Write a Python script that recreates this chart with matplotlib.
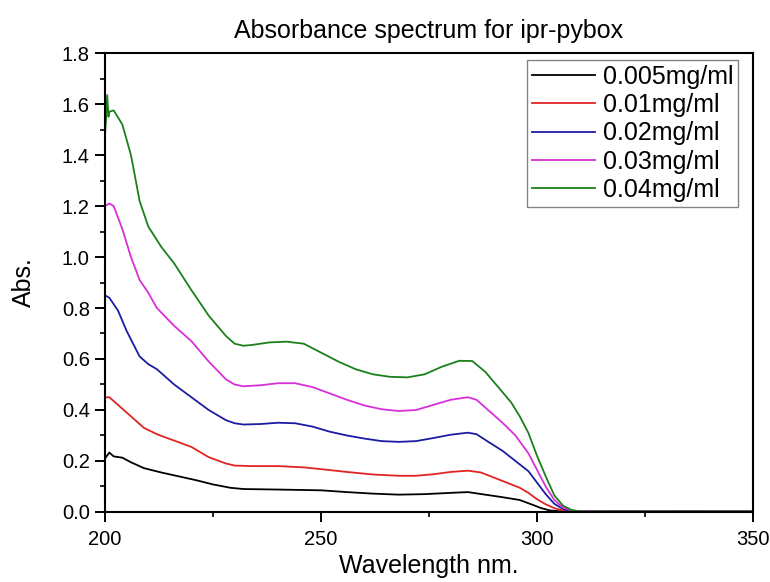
import matplotlib
matplotlib.use("Agg")
import matplotlib.pyplot as plt
from matplotlib.ticker import MultipleLocator, FormatStrFormatter

plt.rcParams['font.family'] = ['Liberation Sans', 'DejaVu Sans']

# UV-Vis absorbance of ipr-pybox at five concentrations
labels = ["0.005mg/ml", "0.01mg/ml", "0.02mg/ml", "0.03mg/ml", "0.04mg/ml"]
colors = ["#000000", "#e02424", "#1c1ca3", "#d830d8", "#1a801a"]

tail_wl = [310, 315, 320, 325, 330, 335, 340, 345, 350]
tail_abs = [0.002, 0.002, 0.003, 0.002, 0.002, 0.003, 0.002, 0.002, 0.002]

wl_005 = [200, 201, 202, 204, 206, 209, 213, 217, 221, 225, 229, 232, 240, 250, 256,
          262, 268, 274, 280, 284, 288, 292, 296, 299, 301, 303, 306]
abs_005 = [0.21, 0.233, 0.218, 0.213, 0.195, 0.172, 0.155, 0.14, 0.125, 0.108, 0.095,
           0.09, 0.088, 0.085, 0.078, 0.072, 0.068, 0.07, 0.075, 0.078, 0.068, 0.058,
           0.047, 0.028, 0.015, 0.006, 0.002]

wl_01 = [200, 201, 203, 205, 207, 209, 212, 216, 220, 224, 228, 230, 234, 240, 246, 250,
         256, 262, 268, 272, 276, 280, 284, 287, 290, 293, 296, 298, 300, 302, 304, 306, 308]
abs_01 = [0.45, 0.45, 0.42, 0.39, 0.36, 0.33, 0.305, 0.28, 0.255, 0.215, 0.19, 0.182,
          0.18, 0.18, 0.175, 0.168, 0.157, 0.147, 0.142, 0.142, 0.148, 0.157, 0.162,
          0.155, 0.135, 0.115, 0.095, 0.075, 0.05, 0.03, 0.015, 0.006, 0.002]

wl_02 = [200, 201, 203, 205, 208, 210, 212, 216, 220, 224, 228, 230, 232, 236, 240, 244,
         248, 252, 256, 260, 264, 268, 272, 276, 280, 284, 286, 289, 292, 295, 298, 300,
         302, 304, 306, 308]
abs_02 = [0.85, 0.84, 0.79, 0.71, 0.61, 0.58, 0.56, 0.50, 0.45, 0.40, 0.36, 0.348, 0.343,
          0.345, 0.35, 0.348, 0.335, 0.315, 0.30, 0.288, 0.278, 0.275, 0.278, 0.29, 0.303,
          0.311, 0.305, 0.272, 0.24, 0.20, 0.16, 0.115, 0.07, 0.032, 0.012, 0.004]

wl_03 = [200, 201, 202, 204, 206, 208, 210, 212, 216, 220, 224, 228, 230, 232, 236, 240,
         244, 248, 252, 256, 260, 264, 268, 272, 276, 280, 284, 286, 289, 292, 295, 298,
         300, 302, 304, 306, 308]
abs_03 = [1.20, 1.21, 1.20, 1.11, 1.00, 0.91, 0.86, 0.80, 0.73, 0.67, 0.59, 0.52, 0.50,
          0.493, 0.497, 0.505, 0.505, 0.49, 0.465, 0.44, 0.418, 0.403, 0.396, 0.40, 0.42,
          0.44, 0.45, 0.44, 0.395, 0.35, 0.30, 0.23, 0.165, 0.10, 0.047, 0.017, 0.006]

wl_04 = [200, 200.3, 200.5, 200.8, 201, 202, 204, 206, 208, 210, 213, 216, 220, 224, 228,
         230, 232, 234, 238, 242, 246, 250, 254, 258, 262, 266, 270, 274, 278, 282, 285,
         288, 291, 294, 296, 298, 300, 302, 304, 306, 308]
abs_04 = [1.48, 1.56, 1.635, 1.55, 1.57, 1.575, 1.52, 1.40, 1.22, 1.12, 1.04, 0.975, 0.87,
          0.77, 0.69, 0.66, 0.652, 0.655, 0.665, 0.668, 0.66, 0.625, 0.59, 0.56, 0.54,
          0.53, 0.528, 0.54, 0.57, 0.593, 0.592, 0.55, 0.49, 0.43, 0.375, 0.31, 0.22,
          0.14, 0.065, 0.025, 0.008]

series_wl = [wl_005, wl_01, wl_02, wl_03, wl_04]
series_abs = [abs_005, abs_01, abs_02, abs_03, abs_04]

fig = plt.figure(figsize=(7.7, 5.82), dpi=100)
ax = fig.add_axes([0.1364, 0.1203, 0.8416, 0.7886])

for wl, ab, lab, col in zip(series_wl, series_abs, labels, colors):
    ax.plot(wl + tail_wl, ab + tail_abs, color=col, lw=1.3, label=lab)

ax.set_xlim(200, 350)
ax.set_ylim(0, 1.8)
ax.xaxis.set_major_locator(MultipleLocator(50))
ax.xaxis.set_minor_locator(MultipleLocator(25))
ax.yaxis.set_major_locator(MultipleLocator(0.2))
ax.yaxis.set_minor_locator(MultipleLocator(0.1))
ax.yaxis.set_major_formatter(FormatStrFormatter('%.1f'))
ax.tick_params(which='major', direction='out', length=7, width=1.4, labelsize=14.5)
ax.tick_params(axis='x', which='major', pad=6)
ax.tick_params(axis='y', which='major', pad=4)
ax.tick_params(which='minor', direction='out', length=3.6, width=1.2)
ax.tick_params(top=False, right=False)
for s in ax.spines.values():
    s.set_linewidth(1.5)

ax.set_xlabel("Wavelength nm.", fontsize=18, va='center')
ax.set_ylabel("Abs.", fontsize=18, va='center')
ax.xaxis.set_label_coords(0.5, -0.118)
ax.yaxis.set_label_coords(-0.125, 0.5)
ax.set_title("Absorbance spectrum for ipr-pybox", fontsize=18, pad=11)

leg = ax.legend(loc='upper right', fontsize=18, frameon=True, fancybox=False,
                edgecolor='#666666', handlelength=2.5, handletextpad=0.32,
                labelspacing=0.17, borderpad=0.2, borderaxespad=0.0,
                bbox_to_anchor=(0.977, 0.985))
leg.get_frame().set_linewidth(1.0)

fig.savefig("out.png", dpi=100)
